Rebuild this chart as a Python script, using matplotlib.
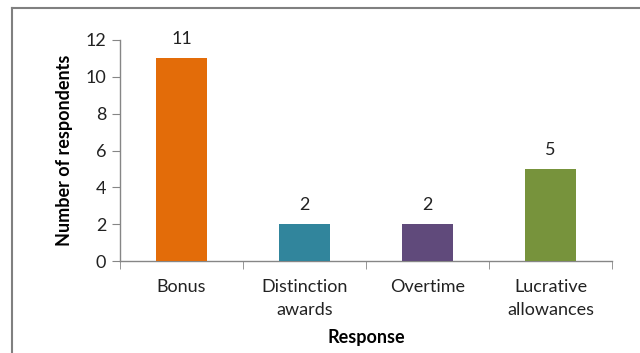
import matplotlib
matplotlib.use("Agg")
import matplotlib.pyplot as plt
from matplotlib.lines import Line2D
import numpy as np

categories = ["Bonus", "Distinction\nawards", "Overtime", "Lucrative\nallowances"]
values = [11, 2, 2, 5]
colors = ["#E36C09", "#31859C", "#604A7B", "#77933C"]
y_ticks = [0, 2, 4, 6, 8, 10, 12]

plt.rcParams["font.family"] = ["Lato", "DejaVu Sans"]
FS = 13

fig = plt.figure(figsize=(6.4, 3.53), dpi=100)
ax = fig.add_axes([120 / 640, 1 - 261 / 353, (612 - 120) / 640, (261 - 40) / 353])

x = np.arange(len(categories))
bars = ax.bar(x, values, width=0.41, color=colors, zorder=3)

for xi, v in zip(x, values):
    ax.annotate(str(v), (xi, v), xytext=(0, 8), textcoords="offset points",
                ha="center", va="bottom", fontsize=FS, color="#222222")

ax.set_xlim(-0.5, len(categories) - 0.5)
ax.set_ylim(0, 12)
ax.set_yticks(y_ticks)
ax.set_yticklabels([str(t) for t in y_ticks], fontsize=FS, color="#222222")

ax.set_xticks(x)
ax.set_xticklabels(categories, fontsize=FS, color="#222222", linespacing=1.55)
ax.set_xticks(np.arange(-0.5, len(categories)), minor=True)
ax.tick_params(axis="x", which="major", length=0, pad=13)
ax.tick_params(axis="x", which="minor", length=6, color="#868686", direction="out")
ax.tick_params(axis="y", length=6, color="#868686", pad=4)

for side in ("top", "right"):
    ax.spines[side].set_visible(False)
for side in ("left", "bottom"):
    ax.spines[side].set_color("#868686")
    ax.spines[side].set_linewidth(1.0)

ax.set_xlabel("Response", fontsize=FS, fontweight="bold", labelpad=8)
ax.set_ylabel("Number of respondents", fontsize=FS, fontweight="bold", labelpad=9)

# chart area border (top and left edges)
fig.add_artist(Line2D([12 / 640, 1.0], [1 - 8 / 353, 1 - 8 / 353],
                      transform=fig.transFigure, color="#808080", lw=1.5))
fig.add_artist(Line2D([12 / 640, 12 / 640], [0.0, 1 - 8 / 353],
                      transform=fig.transFigure, color="#808080", lw=1.5))

fig.savefig("out.png", dpi=100)
